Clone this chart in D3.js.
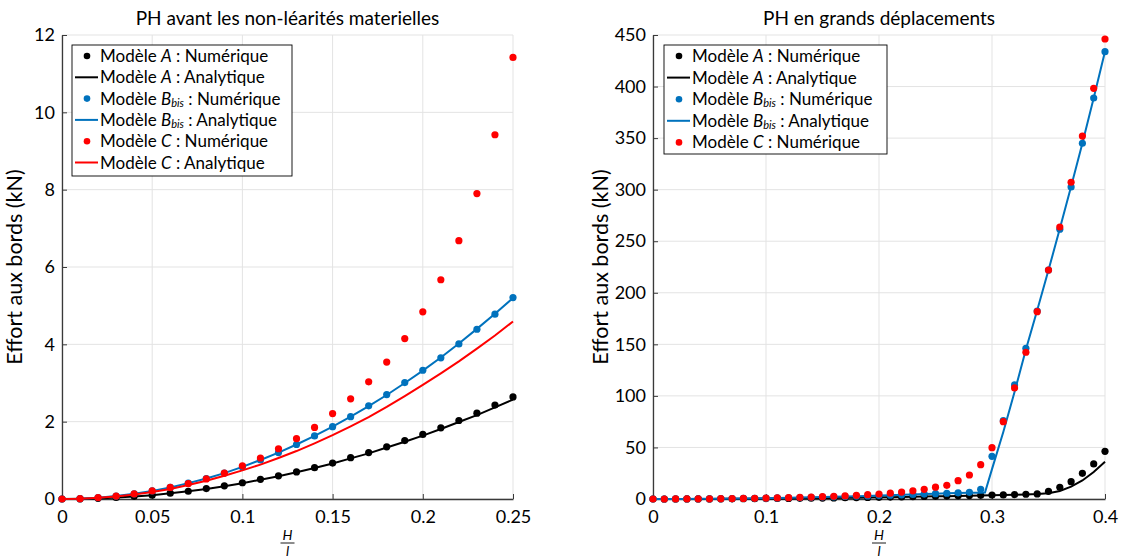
<!DOCTYPE html>
<html>
<head>
<meta charset="utf-8">
<script src="https://cdn.jsdelivr.net/npm/d3@7"></script>
<style>
  body { margin: 0; background: #fff; }
  svg { display: block; }
  svg text { font-family: "Lato", "Open Sans", sans-serif !important; fill: #000; }
</style>
</head>
<body>
<svg id="chart" width="1124" height="559"></svg>
<script>
// ---------- data : left panel ----------
const xLeft = [0,0.01,0.02,0.03,0.04,0.05,0.06,0.07,0.08,0.09,0.10,0.11,0.12,0.13,0.14,0.15,0.16,0.17,0.18,0.19,0.20,0.21,0.22,0.23,0.24,0.25];
const aNumLeft = [0,0.004,0.017,0.04,0.07,0.10,0.15,0.20,0.27,0.34,0.42,0.51,0.60,0.70,0.81,0.93,1.07,1.20,1.35,1.51,1.67,1.84,2.03,2.22,2.43,2.64];
const aAnaLeft = [0,0.004,0.016,0.037,0.066,0.10,0.15,0.20,0.26,0.33,0.41,0.50,0.59,0.69,0.80,0.92,1.05,1.18,1.33,1.48,1.64,1.81,1.99,2.17,2.37,2.57];
const bNumLeft = [0,0.008,0.033,0.075,0.133,0.21,0.30,0.41,0.53,0.67,0.83,1.01,1.20,1.41,1.63,1.87,2.13,2.41,2.70,3.01,3.33,3.65,4.01,4.39,4.78,5.21];
const bAnaLeft = [0,0.008,0.033,0.075,0.133,0.21,0.30,0.41,0.53,0.67,0.83,1.01,1.20,1.41,1.63,1.87,2.13,2.40,2.69,3.00,3.32,3.66,4.02,4.40,4.79,5.20];
const cNumLeft = [0,0.008,0.033,0.075,0.13,0.21,0.30,0.40,0.52,0.67,0.86,1.06,1.30,1.56,1.85,2.21,2.59,3.03,3.54,4.15,4.84,5.67,6.68,7.90,9.42,11.42];
const cAnaLeft = [0,0.007,0.03,0.066,0.118,0.18,0.26,0.36,0.47,0.60,0.74,0.89,1.06,1.24,1.44,1.65,1.88,2.12,2.38,2.66,2.95,3.25,3.56,3.89,4.23,4.59];

// ---------- data : right panel ----------
const xRight = [0,0.01,0.02,0.03,0.04,0.05,0.06,0.07,0.08,0.09,0.10,0.11,0.12,0.13,0.14,0.15,0.16,0.17,0.18,0.19,0.20,0.21,0.22,0.23,0.24,0.25,0.26,0.27,0.28,0.29,0.30,0.31,0.32,0.33,0.34,0.35,0.36,0.37,0.38,0.39,0.40];
const aNumRight = [0,0.004,0.017,0.04,0.07,0.10,0.15,0.20,0.27,0.34,0.42,0.51,0.60,0.70,0.81,0.93,1.07,1.20,1.35,1.51,1.67,1.84,2.03,2.22,2.43,2.64,2.84,3.06,3.29,3.53,3.78,4.0,4.3,4.6,4.9,7.4,11.3,16.8,24.9,34.0,46.2];
const aAnaRight = [0,0.004,0.016,0.037,0.066,0.10,0.15,0.20,0.26,0.33,0.41,0.50,0.59,0.69,0.80,0.92,1.05,1.18,1.33,1.48,1.64,1.81,1.99,2.17,2.37,2.57,2.78,3.0,3.23,3.46,3.7,3.95,4.2,4.45,4.8,5.6,7.8,12.0,18.0,26.2,36.2];
const bNumRight = [0,0.008,0.033,0.075,0.133,0.21,0.30,0.41,0.53,0.67,0.83,1.01,1.20,1.41,1.63,1.87,2.13,2.41,2.70,3.01,3.33,3.65,4.01,4.39,4.78,5.21,5.6,6.0,6.5,9.4,41.4,76.0,110.6,146.1,182.3,222.0,261.6,302.6,345.0,388.9,433.8];
const xBAnaRight = [0,0.01,0.02,0.03,0.04,0.05,0.06,0.07,0.08,0.09,0.10,0.11,0.12,0.13,0.14,0.15,0.16,0.17,0.18,0.19,0.20,0.21,0.22,0.23,0.24,0.25,0.26,0.27,0.28,0.29,0.2938,0.30,0.31,0.32,0.33,0.34,0.35,0.36,0.37,0.38,0.39,0.40];
const bAnaRight = [0,0.008,0.033,0.075,0.133,0.21,0.30,0.41,0.53,0.67,0.83,1.01,1.20,1.41,1.63,1.87,2.13,2.40,2.69,3.00,3.32,3.66,4.02,4.40,4.79,5.20,5.5,5.8,6.0,6.1,6.2,29,65,104,145,183,222,262,303,345,389,434];
const cNumRight = [0,0.008,0.033,0.075,0.13,0.21,0.30,0.40,0.52,0.67,0.86,1.06,1.30,1.56,1.85,2.21,2.59,3.03,3.54,4.15,4.84,5.67,6.68,7.90,9.42,11.42,13.3,17.8,23.3,33.3,49.8,75.0,107.7,142.3,181.7,222.1,263.8,307.2,352.0,398.3,446.1];

// ---------- ticks & labels ----------
const xTicksLeft = [0,0.05,0.1,0.15,0.2,0.25];
const yTicksLeft = [0,2,4,6,8,10,12];
const xTicksRight = [0,0.1,0.2,0.3,0.4];
const yTicksRight = [0,50,100,150,200,250,300,350,400,450];
const titleLeft = "PH avant les non-léarités materielles";
const titleRight = "PH en grands déplacements";
const yLabel = "Effort aux bords (kN)";
const legendLeft = [
  {name:"A", sub:"", kind:"Numérique", type:"dot", color:"#000000"},
  {name:"A", sub:"", kind:"Analytique", type:"line", color:"#000000"},
  {name:"B", sub:"bis", kind:"Numérique", type:"dot", color:"#0072BD"},
  {name:"B", sub:"bis", kind:"Analytique", type:"line", color:"#0072BD"},
  {name:"C", sub:"", kind:"Numérique", type:"dot", color:"#FF0000"},
  {name:"C", sub:"", kind:"Analytique", type:"line", color:"#FF0000"}
];
const legendRight = legendLeft.slice(0,5);

const BLACK = "#000000", BLUE = "#0072BD", RED = "#FF0000";

const svg = d3.select("#chart");

function panel(cfg) {
  const x = d3.scaleLinear().domain(cfg.xDomain).range([cfg.left, cfg.right]);
  const y = d3.scaleLinear().domain(cfg.yDomain).range([cfg.bottom, cfg.top]);
  const g = svg.append("g");

  // grid
  g.append("g").selectAll("line").data(cfg.xTicks).join("line")
    .attr("x1", d => x(d)).attr("x2", d => x(d))
    .attr("y1", cfg.top).attr("y2", cfg.bottom)
    .attr("stroke", "#e3e3e3").attr("stroke-width", 1);
  g.append("g").selectAll("line").data(cfg.yTicks).join("line")
    .attr("x1", cfg.left).attr("x2", cfg.right)
    .attr("y1", d => y(d)).attr("y2", d => y(d))
    .attr("stroke", "#e3e3e3").attr("stroke-width", 1);

  // axes
  const xAxis = d3.axisBottom(x).tickValues(cfg.xTicks).tickSizeInner(-5).tickSizeOuter(0)
    .tickPadding(11).tickFormat(d => d3.format("~g")(d));
  const yAxis = d3.axisLeft(y).tickValues(cfg.yTicks).tickSizeInner(-5).tickSizeOuter(0)
    .tickPadding(7).tickFormat(d => d3.format("~g")(d));
  const gx = g.append("g").attr("transform", `translate(0,${cfg.bottom})`).call(xAxis);
  const gy = g.append("g").attr("transform", `translate(${cfg.left},0)`).call(yAxis);
  [gx, gy].forEach(a => {
    a.attr("font-family", null);
    a.select(".domain").attr("stroke", "#3a3a3a").attr("stroke-width", 1.3);
    a.selectAll(".tick line").attr("stroke", "#3a3a3a").attr("stroke-width", 1);
    a.selectAll(".tick text").attr("font-size", 18).attr("fill", "#000");
  });

  // title
  g.append("text").attr("x", (cfg.left + cfg.right) / 2).attr("y", 25)
    .attr("text-anchor", "middle").attr("font-size", 19).text(cfg.title);

  // y label
  g.append("text").attr("transform", `translate(${cfg.left - cfg.ylabOff},${(cfg.top + cfg.bottom) / 2}) rotate(-90)`)
    .attr("text-anchor", "middle").attr("font-size", 21.5).text(yLabel);

  // x label fraction H / l
  const cx = (cfg.left + cfg.right) / 2;
  g.append("text").attr("x", cx).attr("y", 540).attr("text-anchor", "middle")
    .attr("font-size", 14).attr("font-style", "italic").text("H");
  g.append("line").attr("x1", cx - 7).attr("x2", cx + 7).attr("y1", 543).attr("y2", 543)
    .attr("stroke", "#000").attr("stroke-width", 0.9);
  g.append("text").attr("x", cx).attr("y", 556).attr("text-anchor", "middle")
    .attr("font-size", 14).attr("font-style", "italic").text("l");

  const line = d3.line().x(d => x(d[0])).y(d => y(d[1]));
  const dots = (xs, ys, color) => g.append("g").selectAll("circle").data(d3.zip(xs, ys)).join("circle")
    .attr("cx", d => x(d[0])).attr("cy", d => y(d[1])).attr("r", 3.6).attr("fill", color);
  const path = (xs, ys, color) => g.append("path").datum(d3.zip(xs, ys))
    .attr("d", line).attr("fill", "none").attr("stroke", color).attr("stroke-width", 2);

  cfg.series.forEach(s => s.type === "dot" ? dots(s.x, s.y, s.color) : path(s.x, s.y, s.color));

  // legend
  const lg = g.append("g");
  const rowH = cfg.legRowH;
  lg.append("rect").attr("x", cfg.leg.x).attr("y", cfg.leg.y).attr("width", cfg.leg.w)
    .attr("height", cfg.leg.h).attr("fill", "#fff").attr("stroke", "#000").attr("stroke-width", 0.9);
  cfg.legend.forEach((e, i) => {
    const cy = cfg.leg.y + 11 + rowH * i;
    if (e.type === "dot") {
      lg.append("circle").attr("cx", cfg.leg.x + 15).attr("cy", cy).attr("r", 3.3).attr("fill", e.color);
    } else {
      lg.append("line").attr("x1", cfg.leg.x + 3).attr("x2", cfg.leg.x + 26)
        .attr("y1", cy).attr("y2", cy).attr("stroke", e.color).attr("stroke-width", 2);
    }
    const t = lg.append("text").attr("x", cfg.leg.x + 28).attr("y", cy + 6).attr("font-size", 17);
    t.append("tspan").text("Modèle ");
    t.append("tspan").attr("font-style", "italic").text(e.name);
    if (e.sub) t.append("tspan").attr("font-style", "italic").attr("font-size", 11).attr("dy", 2).text(e.sub);
    t.append("tspan").attr("dy", e.sub ? -2 : 0).text(" : " + e.kind);
  });
}

panel({
  left: 62, right: 513, top: 35, bottom: 499, ylabOff: 40,
  xDomain: [0, 0.25], yDomain: [0, 12],
  xTicks: xTicksLeft, yTicks: yTicksLeft, title: titleLeft,
  series: [
    {type:"dot", x:xLeft, y:aNumLeft, color:BLACK},
    {type:"line", x:xLeft, y:aAnaLeft, color:BLACK},
    {type:"dot", x:xLeft, y:bNumLeft, color:BLUE},
    {type:"line", x:xLeft, y:bAnaLeft, color:BLUE},
    {type:"dot", x:xLeft, y:cNumLeft, color:RED},
    {type:"line", x:xLeft, y:cAnaLeft, color:RED}
  ],
  legend: legendLeft, legRowH: 21.3,
  leg: {x: 72, y: 45, w: 220, h: 131}
});

panel({
  left: 653, right: 1105, top: 35, bottom: 499, ylabOff: 45,
  xDomain: [0, 0.4], yDomain: [0, 450],
  xTicks: xTicksRight, yTicks: yTicksRight, title: titleRight,
  series: [
    {type:"dot", x:xRight, y:aNumRight, color:BLACK},
    {type:"line", x:xRight, y:aAnaRight, color:BLACK},
    {type:"dot", x:xRight, y:bNumRight, color:BLUE},
    {type:"line", x:xBAnaRight, y:bAnaRight, color:BLUE},
    {type:"dot", x:xRight, y:cNumRight, color:RED}
  ],
  legend: legendRight, legRowH: 21.6,
  leg: {x: 664, y: 45, w: 223, h: 109}
});
</script>
</body>
</html>
